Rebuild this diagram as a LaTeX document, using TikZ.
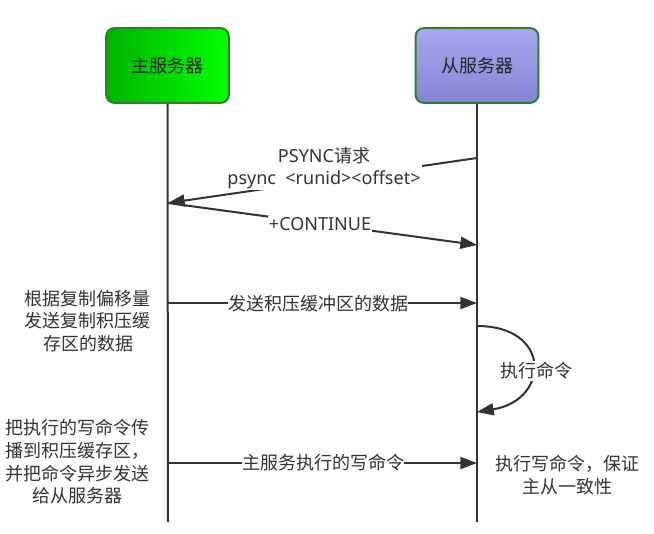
\documentclass[tikz,border=0pt]{standalone}
\usepackage{fontspec}
\setmainfont{Noto Sans CJK SC}
\newfontfamily\latinfont{Noto Sans}
\usetikzlibrary{arrows.meta}
\definecolor{ink}{HTML}{333333}
\definecolor{gdark}{HTML}{00B400}
\definecolor{glight}{HTML}{00FF00}
\definecolor{gborder}{HTML}{2F7F2F}
\definecolor{ptop}{HTML}{A8A8EE}
\definecolor{pbot}{HTML}{8484D6}
\tikzset{
  actor/.style={draw=gborder, line width=1.5pt, rounded corners=6pt, minimum width=92pt, minimum height=56pt, font=\fontsize{13.5}{16}\selectfont, text=black!85},
  msg/.style={draw=ink, line width=1.5pt, -{Triangle[length=12.5pt,width=9pt]}},
  life/.style={draw=ink, line width=1.5pt},
  lbl/.style={fill=white, inner sep=1pt, text=ink, font=\fontsize{13.5}{17}\selectfont, align=center},
  note/.style={inner sep=0pt, text=ink, font=\fontsize{13.5}{17}\selectfont, align=center}
}
\begin{document}
\begin{tikzpicture}[x=0.75pt,y=-0.75pt]
\useasboundingbox (0,0) rectangle (654,533);
% actors
\node[actor, left color=gdark, right color=glight] (master) at (167.5,65.5) {主服务器};
\node[actor, top color=ptop, bottom color=pbot] (slave) at (477,65.5) {从服务器};
% lifelines
\coordinate (mEnd) at (168,522);
\coordinate (sEnd) at (477,522);
\draw[life] (master.south) -- (mEnd);
\draw[life] (slave.south) -- (sEnd);
% points on lifelines
\coordinate (s1) at (477,158);
\coordinate (m1) at (168,203);
\coordinate (s2) at (477,245);
\coordinate (m3) at (168,303);
\coordinate (s3) at (477,303);
\coordinate (s4a) at (477,326);
\coordinate (s4b) at (477,412);
\coordinate (m5) at (168,463);
\coordinate (s5) at (477,463);
% messages
\draw[msg] (s1) -- (m1);
\node[lbl] (l1) at (324,168) {{\latinfont PSYNC}请求\\{\latinfont psync~ <runid><offset>}};
\draw[msg] (m1) -- (s2);
\node[lbl] (l2) at (320,224) {\latinfont +CONTINUE};
\draw[msg] (m3) -- (s3);
\node[lbl, inner sep=0pt] (l3) at (318,304) {发送积压缓冲区的数据};
\draw[msg] (s4a) .. controls (552,326) and (550,400) .. (s4b);
\node[lbl] (l4) at (536,371) {执行命令};
\draw[msg] (m5) -- (s5);
\node[lbl, inner sep=0pt] (l5) at (323,463) {主服务执行的写命令};
% notes
\node[note] (n1) at (88,321) {根据复制偏移量\\发送复制积压缓\\存区的数据};
\node[note] (n2) at (78,462) {把执行的写命令传\\播到积压缓存区，\\并把命令异步发送\\给从服务器};
\node[note] (n3) at (567,475) {执行写命令，保证\\主从一致性};
\end{tikzpicture}
\end{document}
